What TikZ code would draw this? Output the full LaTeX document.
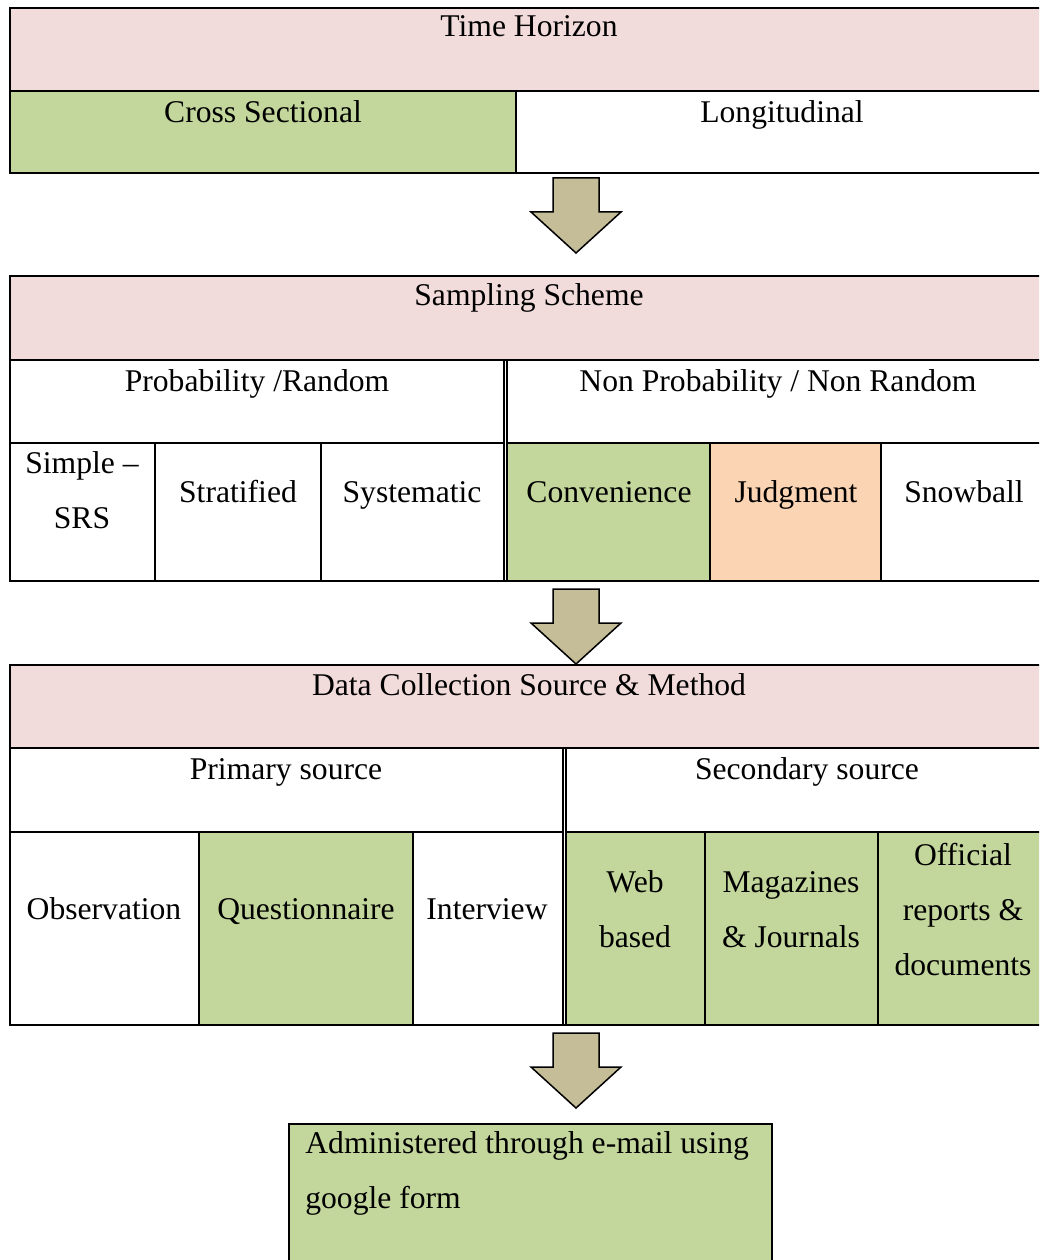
\documentclass[tikz,border=0pt]{standalone}
\usepackage{fontspec}
\setmainfont{Liberation Serif}
\definecolor{hdrpink}{HTML}{F2DCDB}
\definecolor{selgreen}{HTML}{C3D69B}
\definecolor{selorange}{HTML}{FBD4B4}
\definecolor{arrowtan}{HTML}{C4BD97}

\begin{document}
\begin{tikzpicture}[x=0.02cm,y=-0.02cm]
    \def\R{1048}
    \def\downblock#1{\draw[blk] (553,#1) -- (599,#1) -- (599,#1+34) -- (621,#1+34)
        -- (576,#1+75) -- (531,#1+34) -- (553,#1+34) -- cycle;}

    \tikzstyle{txt}=[inner sep=0pt,font=\fontsize{18pt}{31.3pt}\selectfont]
    \tikzstyle{one}=[txt,anchor=base]
    \tikzstyle{multi}=[txt,anchor=north,align=center]
    \tikzstyle{rule}=[draw=black,line width=0.04cm]
    \tikzstyle{thin}=[draw=black,line width=0.036cm]
    \tikzstyle{blk}=[draw=black,fill=arrowtan,line width=0.03cm,line join=miter]

    \clip (0,0) rectangle (1039,1260);

    % time horizon
    \fill[hdrpink] (10,8) rectangle (\R,91);
    \fill[selgreen] (10,91) rectangle (516,173);
    \draw[rule] (10,8) rectangle (\R,173);
    \draw[rule] (10,91) -- (\R,91);
    \draw[rule] (516,91) -- (516,173);
    \node[one] (th) at (529,37) {Time Horizon};
    \node[one] (cs) at (263,123) {Cross Sectional};
    \node[one] (lg) at (782,123) {Longitudinal};

    \downblock{178}

    % sampling scheme
    \fill[hdrpink] (10,276) rectangle (\R,360);
    \fill[selgreen] (507,443) rectangle (710,581);
    \fill[selorange] (710,443) rectangle (881,581);
    \draw[rule] (10,276) rectangle (\R,581);
    \draw[rule] (10,360) -- (\R,360);
    \draw[rule] (10,443) -- (503.7,443);
    \draw[rule] (507,443) -- (\R,443);
    \draw[thin] (503.7,360) -- (503.7,581);
    \draw[thin] (507,360) -- (507,581);
    \foreach \cx in {155,321,710,881}
        \draw[rule] (\cx,443) -- (\cx,581);
    \node[one] (ss) at (529,306) {Sampling Scheme};
    \node[one] (prob) at (257,391) {Probability /Random};
    \node[one] (nprob) at (778,391) {Non Probability / Non Random};
    \node[multi] (srs) at (82,451.5) {Simple --\\SRS};
    \node[one] (strat) at (238,502) {Stratified};
    \node[one] (sys) at (412,502) {Systematic};
    \node[one] (conv) at (609,502) {Convenience};
    \node[one] (judg) at (796,502) {Judgment};
    \node[one] (snow) at (964,502) {Snowball};

    \downblock{589}

    % data collection
    \fill[hdrpink] (10,665) rectangle (\R,748);
    \fill[selgreen] (199,832) rectangle (413,1025);
    \fill[selgreen] (566,832) rectangle (\R,1025);
    \draw[rule] (10,665) rectangle (\R,1025);
    \draw[rule] (10,748) -- (\R,748);
    \draw[rule] (10,832) -- (562.7,832);
    \draw[rule] (566,832) -- (\R,832);
    \draw[thin] (562.7,748) -- (562.7,1025);
    \draw[thin] (566,748) -- (566,1025);
    \foreach \cx in {199,413,705,878}
        \draw[rule] (\cx,832) -- (\cx,1025);
    \node[one] (dcs) at (529,695) {Data Collection Source \& Method};
    \node[one] (prim) at (286,779) {Primary source};
    \node[one] (sec) at (807,779) {Secondary source};
    \node[one] (obs) at (104,919) {Observation};
    \node[one] (quest) at (306,919) {Questionnaire};
    \node[one] (intv) at (487,919) {Interview};
    \node[multi] (web) at (635,870.5) {Web\\based};
    \node[multi] (mag) at (791,871) {Magazines\\\& Journals};
    \node[multi] (off) at (963,842.5) {Official\\reports \&\\documents};

    \downblock{1033}

    % final box
    \filldraw[fill=selgreen,draw=black,line width=0.04cm] (289,1124) rectangle (772,1300);
    \node[txt,anchor=north west,align=left] (admin) at (305,1131.5)
        {Administered through e-mail using\\google form};
\end{tikzpicture}
\end{document}
